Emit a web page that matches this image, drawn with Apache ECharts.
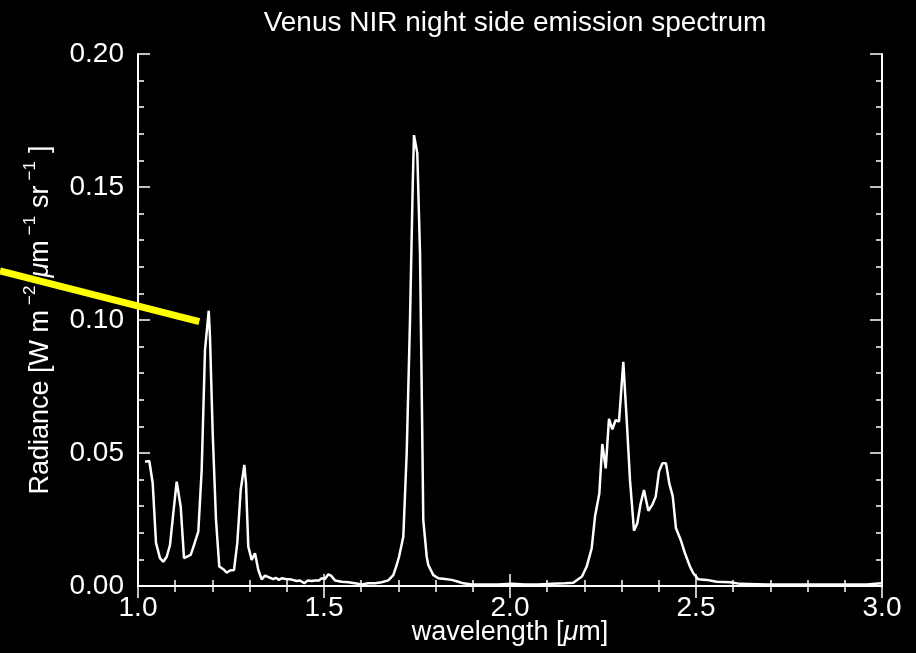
<!DOCTYPE html>
<html>
<head>
<meta charset="utf-8">
<script src="https://cdn.jsdelivr.net/npm/echarts@6/dist/echarts.min.js"></script>
<style>
  html, body { margin: 0; padding: 0; background: #000; }
  #chart { width: 916px; height: 653px; }
</style>
</head>
<body>
<div id="chart"></div>
<script>
// wavelength (um) of each sample
var wavelength = [
  1.0188, 1.0304, 1.0395, 1.0484, 1.0591, 1.0680, 1.0772, 1.0860, 1.0949, 1.1040,
  1.1148, 1.1237, 1.1417, 1.1505, 1.1621, 1.1712, 1.1801, 1.1901, 1.1935, 1.2008,
  1.2097, 1.2185, 1.2293, 1.2384, 1.2473, 1.2581, 1.2669, 1.2761, 1.2858, 1.2903,
  1.2965, 1.3056, 1.3145, 1.3234, 1.3325, 1.3414, 1.3548, 1.3637, 1.3702, 1.3790,
  1.3863, 1.3970, 1.4132, 1.4266, 1.4355, 1.4470, 1.4562, 1.4669, 1.4758, 1.4866,
  1.4938, 1.5027, 1.5116, 1.5188, 1.5296, 1.5476, 1.5653, 1.5833, 1.6013, 1.6191,
  1.6371, 1.6551, 1.6728, 1.6863, 1.6954, 1.7016, 1.7132, 1.7223, 1.7312, 1.7384,
  1.7419, 1.7508, 1.7581, 1.7626, 1.7669, 1.7761, 1.7804, 1.7939, 1.8073, 1.8253,
  1.8433, 1.8610, 1.8745, 1.8970, 1.9328, 1.9685, 2.0046, 2.0403, 2.0761, 2.1121,
  2.1478, 2.1702, 2.1935, 2.2062, 2.2196, 2.2285, 2.2401, 2.2481, 2.2573, 2.2661,
  2.2750, 2.2841, 2.2930, 2.3046, 2.3137, 2.3226, 2.3333, 2.3422, 2.3513, 2.3602,
  2.3718, 2.3825, 2.3917, 2.4005, 2.4094, 2.4194, 2.4282, 2.4374, 2.4462, 2.4589,
  2.4704, 2.4839, 2.4927, 2.5062, 2.5288, 2.5556, 2.5914, 2.6183, 2.6901, 2.7796,
  2.8691, 2.9589, 2.9992
];
// radiance (W m-2 um-1 sr-1)
var radiance = [
  0.0467, 0.0470, 0.0387, 0.0162, 0.0105, 0.0091, 0.0110, 0.0154, 0.0274, 0.0392,
  0.0298, 0.0105, 0.0117, 0.0154, 0.0204, 0.0436, 0.0887, 0.1035, 0.0937, 0.0575,
  0.0248, 0.0073, 0.0063, 0.0050, 0.0058, 0.0060, 0.0162, 0.0361, 0.0455, 0.0387,
  0.0148, 0.0098, 0.0123, 0.0060, 0.0025, 0.0039, 0.0031, 0.0026, 0.0031, 0.0023,
  0.0029, 0.0026, 0.0024, 0.0019, 0.0021, 0.0010, 0.0021, 0.0019, 0.0021, 0.0021,
  0.0029, 0.0026, 0.0044, 0.0039, 0.0021, 0.0016, 0.0014, 0.0010, 0.0006, 0.0010,
  0.0010, 0.0014, 0.0021, 0.0041, 0.0079, 0.0109, 0.0185, 0.0500, 0.1000, 0.1501,
  0.1695, 0.1627, 0.1252, 0.0749, 0.0248, 0.0110, 0.0079, 0.0041, 0.0029, 0.0026,
  0.0023, 0.0016, 0.0010, 0.0006, 0.0006, 0.0006, 0.0008, 0.0006, 0.0006, 0.0008,
  0.0010, 0.0012, 0.0036, 0.0073, 0.0142, 0.0261, 0.0348, 0.0534, 0.0442, 0.0628,
  0.0589, 0.0624, 0.0618, 0.0843, 0.0624, 0.0398, 0.0208, 0.0236, 0.0311, 0.0361,
  0.0283, 0.0305, 0.0336, 0.0430, 0.0461, 0.0461, 0.0386, 0.0338, 0.0217, 0.0173,
  0.0123, 0.0073, 0.0048, 0.0025, 0.0023, 0.0016, 0.0014, 0.0008, 0.0006, 0.0006,
  0.0006, 0.0006, 0.0010
];
// yellow pointer line (ends in data units)
var pointerX = [0.629, 1.1648];
var pointerY = [0.1185, 0.0994];

var spectrum = wavelength.map(function (w, i) { return [w, radiance[i]]; });

var font = "'Liberation Sans', Arial, sans-serif";
var white = "#ffffff";

function axisBase(show) {
  return {
    type: "value",
    axisLine: { show: true, lineStyle: { color: white, width: 2 } },
    axisTick: { show: true, inside: true, length: 12, lineStyle: { color: white, width: 1.5 } },
    minorTick: { show: true, splitNumber: 5, length: 6, lineStyle: { color: white, width: 1.5 } },
    splitLine: { show: false },
    axisLabel: { show: show, color: white, fontFamily: font, fontSize: 28 }
  };
}

var xBottom = axisBase(true);
xBottom.min = 1; xBottom.max = 3; xBottom.interval = 0.5; xBottom.position = "bottom";
xBottom.axisLabel.margin = 8;
xBottom.axisLabel.formatter = function (v) { return v.toFixed(1); };
xBottom.name = "{a|wavelength [}{i|\u03bc}{a|m]}";
xBottom.nameLocation = "middle";
xBottom.nameGap = 33;
xBottom.nameMoveOverlap = false;
xBottom.nameTextStyle = {
  rich: {
    a: { color: white, fontFamily: font, fontSize: 27 },
    i: { color: white, fontFamily: font, fontSize: 27, fontStyle: "italic" }
  }
};
var xTop = axisBase(false);
xTop.min = 1; xTop.max = 3; xTop.interval = 0.5; xTop.position = "top";

var yLeft = axisBase(true);
yLeft.min = 0; yLeft.max = 0.2; yLeft.interval = 0.05; yLeft.position = "left";
yLeft.axisLabel.margin = 14;
yLeft.axisLabel.formatter = function (v) { return v.toFixed(2); };
yLeft.name = "{a|Radiance [W m}{s|\u22122}{i|\u03bc}{a|m}{s|\u22121}{a|sr}{s|\u22121}{a|]}";
yLeft.nameLocation = "middle";
yLeft.nameGap = 84;
yLeft.nameMoveOverlap = false;
yLeft.nameRotate = 90;
yLeft.nameTextStyle = {
  rich: {
    a: { color: white, fontFamily: font, fontSize: 27, lineHeight: 32, verticalAlign: "bottom" },
    i: { color: white, fontFamily: font, fontSize: 27, lineHeight: 32, fontStyle: "italic", verticalAlign: "bottom" },
    s: { color: white, fontFamily: font, fontSize: 17, lineHeight: 32, verticalAlign: "top", padding: [0, 8, 0, 5] }
  }
};
var yRight = axisBase(false);
yRight.min = 0; yRight.max = 0.2; yRight.interval = 0.05; yRight.position = "right";

var chart = echarts.init(document.getElementById("chart"));
chart.setOption({
  backgroundColor: "#000000",
  animation: false,
  title: {
    text: "Venus NIR night side emission spectrum",
    left: 510,
    textAlign: "center",
    top: 4,
    textStyle: { color: white, fontFamily: font, fontSize: 28, fontWeight: "normal" }
  },
  grid: { left: 138, right: 34, top: 54, bottom: 67, containLabel: false, outerBoundsMode: "none" },
  xAxis: [xBottom, xTop],
  yAxis: [yLeft, yRight],
  series: [
    {
      type: "line",
      data: spectrum,
      symbol: "none",
      lineStyle: { color: white, width: 2.5 },
      z: 3
    }
  ]
});

// pointer drawn over the axis, positioned through the chart's own scales
var p0 = chart.convertToPixel({ xAxisIndex: 0, yAxisIndex: 0 }, [pointerX[0], pointerY[0]]);
var p1 = chart.convertToPixel({ xAxisIndex: 0, yAxisIndex: 0 }, [pointerX[1], pointerY[1]]);
chart.setOption({
  graphic: [{
    type: "line",
    shape: { x1: p0[0], y1: p0[1], x2: p1[0], y2: p1[1] },
    style: { stroke: "#ffff00", lineWidth: 7 },
    z: 100
  }]
});
</script>
</body>
</html>
